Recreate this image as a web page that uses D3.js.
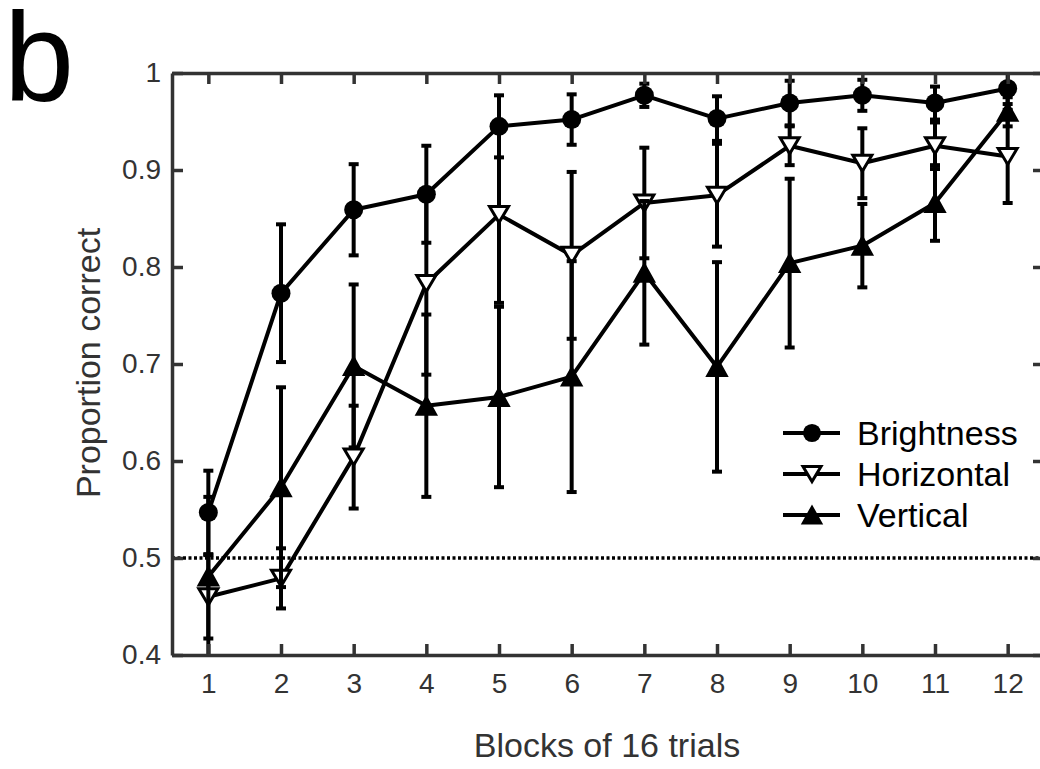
<!DOCTYPE html>
<html>
<head>
<meta charset="utf-8">
<script src="https://cdn.jsdelivr.net/npm/d3@7"></script>
<style>
  body { margin: 0; background: #fff; }
  svg { display: block; }
  text { font-family: "Liberation Sans", Arial, Helvetica, sans-serif; }
</style>
</head>
<body>
<svg width="1040" height="769"></svg>
<script>
// dati
var blocks = [1, 2, 3, 4, 5, 6, 7, 8, 9, 10, 11, 12];
var brightness    = [0.547, 0.773, 0.859, 0.875, 0.945, 0.952, 0.977, 0.953, 0.969, 0.977, 0.969, 0.984];
var brightnessErr = [0.043, 0.071, 0.047, 0.050, 0.032, 0.026, 0.012, 0.023, 0.023, 0.016, 0.017, 0.016];
var horizontal    = [0.460, 0.479, 0.604, 0.783, 0.854, 0.812, 0.866, 0.874, 0.925, 0.907, 0.925, 0.914];
var horizontalErr = [0.043, 0.031, 0.053, 0.094, 0.091, 0.086, 0.057, 0.053, 0.020, 0.036, 0.024, 0.048];
var vertical      = [0.481, 0.573, 0.698, 0.657, 0.666, 0.687, 0.794, 0.697, 0.804, 0.822, 0.866, 0.960];
var verticalErr   = [0.082, 0.103, 0.084, 0.094, 0.093, 0.119, 0.074, 0.108, 0.087, 0.043, 0.039, 0.015];
var seriesNames = ["Brightness", "Horizontal", "Vertical"];
var yTicks = [0.4, 0.5, 0.6, 0.7, 0.8, 0.9, 1];
var chance = 0.5;

var svg = d3.select("svg");
var mLeft = 172, mRight = 1044, mTop = 73, mBottom = 655;
var axisColor = "#333";

var x = d3.scaleLinear().domain([0.5, 12.5]).range([mLeft, mRight]);
var y = d3.scaleLinear().domain([0.4, 1]).range([mBottom, mTop]);

svg.append("defs").append("clipPath").attr("id", "area")
  .append("rect").attr("x", mLeft).attr("y", mTop)
  .attr("width", mRight - mLeft).attr("height", mBottom - mTop);

// linea tratteggiata al caso
svg.append("line")
  .attr("x1", mLeft).attr("x2", mRight)
  .attr("y1", y(chance)).attr("y2", y(chance))
  .attr("stroke", "#000").attr("stroke-width", 3.5)
  .attr("stroke-dasharray", "3,2.5");

var series = [
  { name: seriesNames[0], vals: brightness, err: brightnessErr, marker: "circle" },
  { name: seriesNames[1], vals: horizontal, err: horizontalErr, marker: "down" },
  { name: seriesNames[2], vals: vertical, err: verticalErr, marker: "up" }
];

function drawMarker(g, type, cx, cy, s) {
  if (type === "circle") {
    g.append("circle").attr("cx", cx).attr("cy", cy).attr("r", 9.5 * s)
      .attr("fill", "#000");
  } else if (type === "down") {
    var w = 9.5 * s, h = 8 * s;
    g.append("path")
      .attr("d", "M" + (cx - w) + "," + (cy - h) + "L" + (cx + w) + "," + (cy - h) + "L" + cx + "," + (cy + h) + "Z")
      .attr("fill", "#fff").attr("stroke", "#000").attr("stroke-width", 3)
      .attr("stroke-linejoin", "miter");
  } else {
    var w2 = 10 * s, h2 = 9 * s;
    g.append("path")
      .attr("d", "M" + (cx - w2) + "," + (cy + h2) + "L" + (cx + w2) + "," + (cy + h2) + "L" + cx + "," + (cy - h2) + "Z")
      .attr("fill", "#000").attr("stroke", "#000").attr("stroke-width", 2);
  }
}

var plot = svg.append("g").attr("clip-path", "url(#area)");
var line = d3.line().x(function(d, i) { return x(blocks[i]); }).y(function(d) { return y(d); });

series.forEach(function(s) {
  var g = plot.append("g");
  // barre d'errore
  s.vals.forEach(function(v, i) {
    var cx = x(blocks[i]), lo = y(v - s.err[i]), hi = y(v + s.err[i]);
    g.append("line").attr("x1", cx).attr("x2", cx).attr("y1", lo).attr("y2", hi)
      .attr("stroke", "#000").attr("stroke-width", 4);
    [lo, hi].forEach(function(yy) {
      g.append("line").attr("x1", cx - 5).attr("x2", cx + 5).attr("y1", yy).attr("y2", yy)
        .attr("stroke", "#000").attr("stroke-width", 4);
    });
  });
  g.append("path").attr("d", line(s.vals))
    .attr("fill", "none").attr("stroke", "#000").attr("stroke-width", 4)
    .attr("stroke-linejoin", "round");
  s.vals.forEach(function(v, i) {
    drawMarker(g, s.marker, x(blocks[i]), y(v), 1);
  });
});

// assi
var fmt = function(d) { return d === 1 ? "1" : d3.format(".1f")(d); };
var axL = svg.append("g").attr("transform", "translate(" + mLeft + ",0)")
  .call(d3.axisLeft(y).tickValues(yTicks).tickFormat(fmt).tickSizeInner(-11).tickSizeOuter(0).tickPadding(11));
var axR = svg.append("g").attr("transform", "translate(" + mRight + ",0)")
  .call(d3.axisRight(y).tickValues(yTicks).tickFormat("").tickSizeInner(-11).tickSizeOuter(0));
var axB = svg.append("g").attr("transform", "translate(0," + mBottom + ")")
  .call(d3.axisBottom(x).tickValues(blocks).tickFormat(d3.format("d")).tickSizeInner(-11).tickSizeOuter(0).tickPadding(18));
var axT = svg.append("g").attr("transform", "translate(0," + mTop + ")")
  .call(d3.axisTop(x).tickValues(blocks).tickFormat("").tickSizeInner(-11).tickSizeOuter(0));

[axL, axR, axB, axT].forEach(function(a) {
  a.attr("font-size", 28).attr("font-family", "'Liberation Sans', Arial, sans-serif");
  a.select(".domain").attr("stroke", axisColor).attr("stroke-width", 3.5);
  a.selectAll(".tick line").attr("stroke", axisColor).attr("stroke-width", 3.5);
  a.selectAll(".tick text").attr("fill", axisColor);
});

// titoli
svg.append("text").attr("x", 607).attr("y", 757)
  .attr("text-anchor", "middle").attr("font-size", 34).attr("fill", axisColor)
  .text("Blocks of 16 trials");
svg.append("text").attr("transform", "translate(100,363) rotate(-90)")
  .attr("text-anchor", "middle").attr("font-size", 34).attr("fill", axisColor)
  .text("Proportion correct");
svg.append("text").attr("x", 4).attr("y", 101)
  .attr("font-size", 126).attr("fill", "#000").text("b");

// legenda
var leg = svg.append("g");
series.forEach(function(s, i) {
  var ly = 433 + i * 41;
  leg.append("line").attr("x1", 783).attr("x2", 840).attr("y1", ly).attr("y2", ly)
    .attr("stroke", "#000").attr("stroke-width", 4);
  drawMarker(leg, s.marker, 812, ly, 0.95);
  leg.append("text").attr("x", 857).attr("y", ly).attr("dy", "0.36em")
    .attr("font-size", 34).attr("fill", "#000").text(s.name);
});
</script>
</body>
</html>
